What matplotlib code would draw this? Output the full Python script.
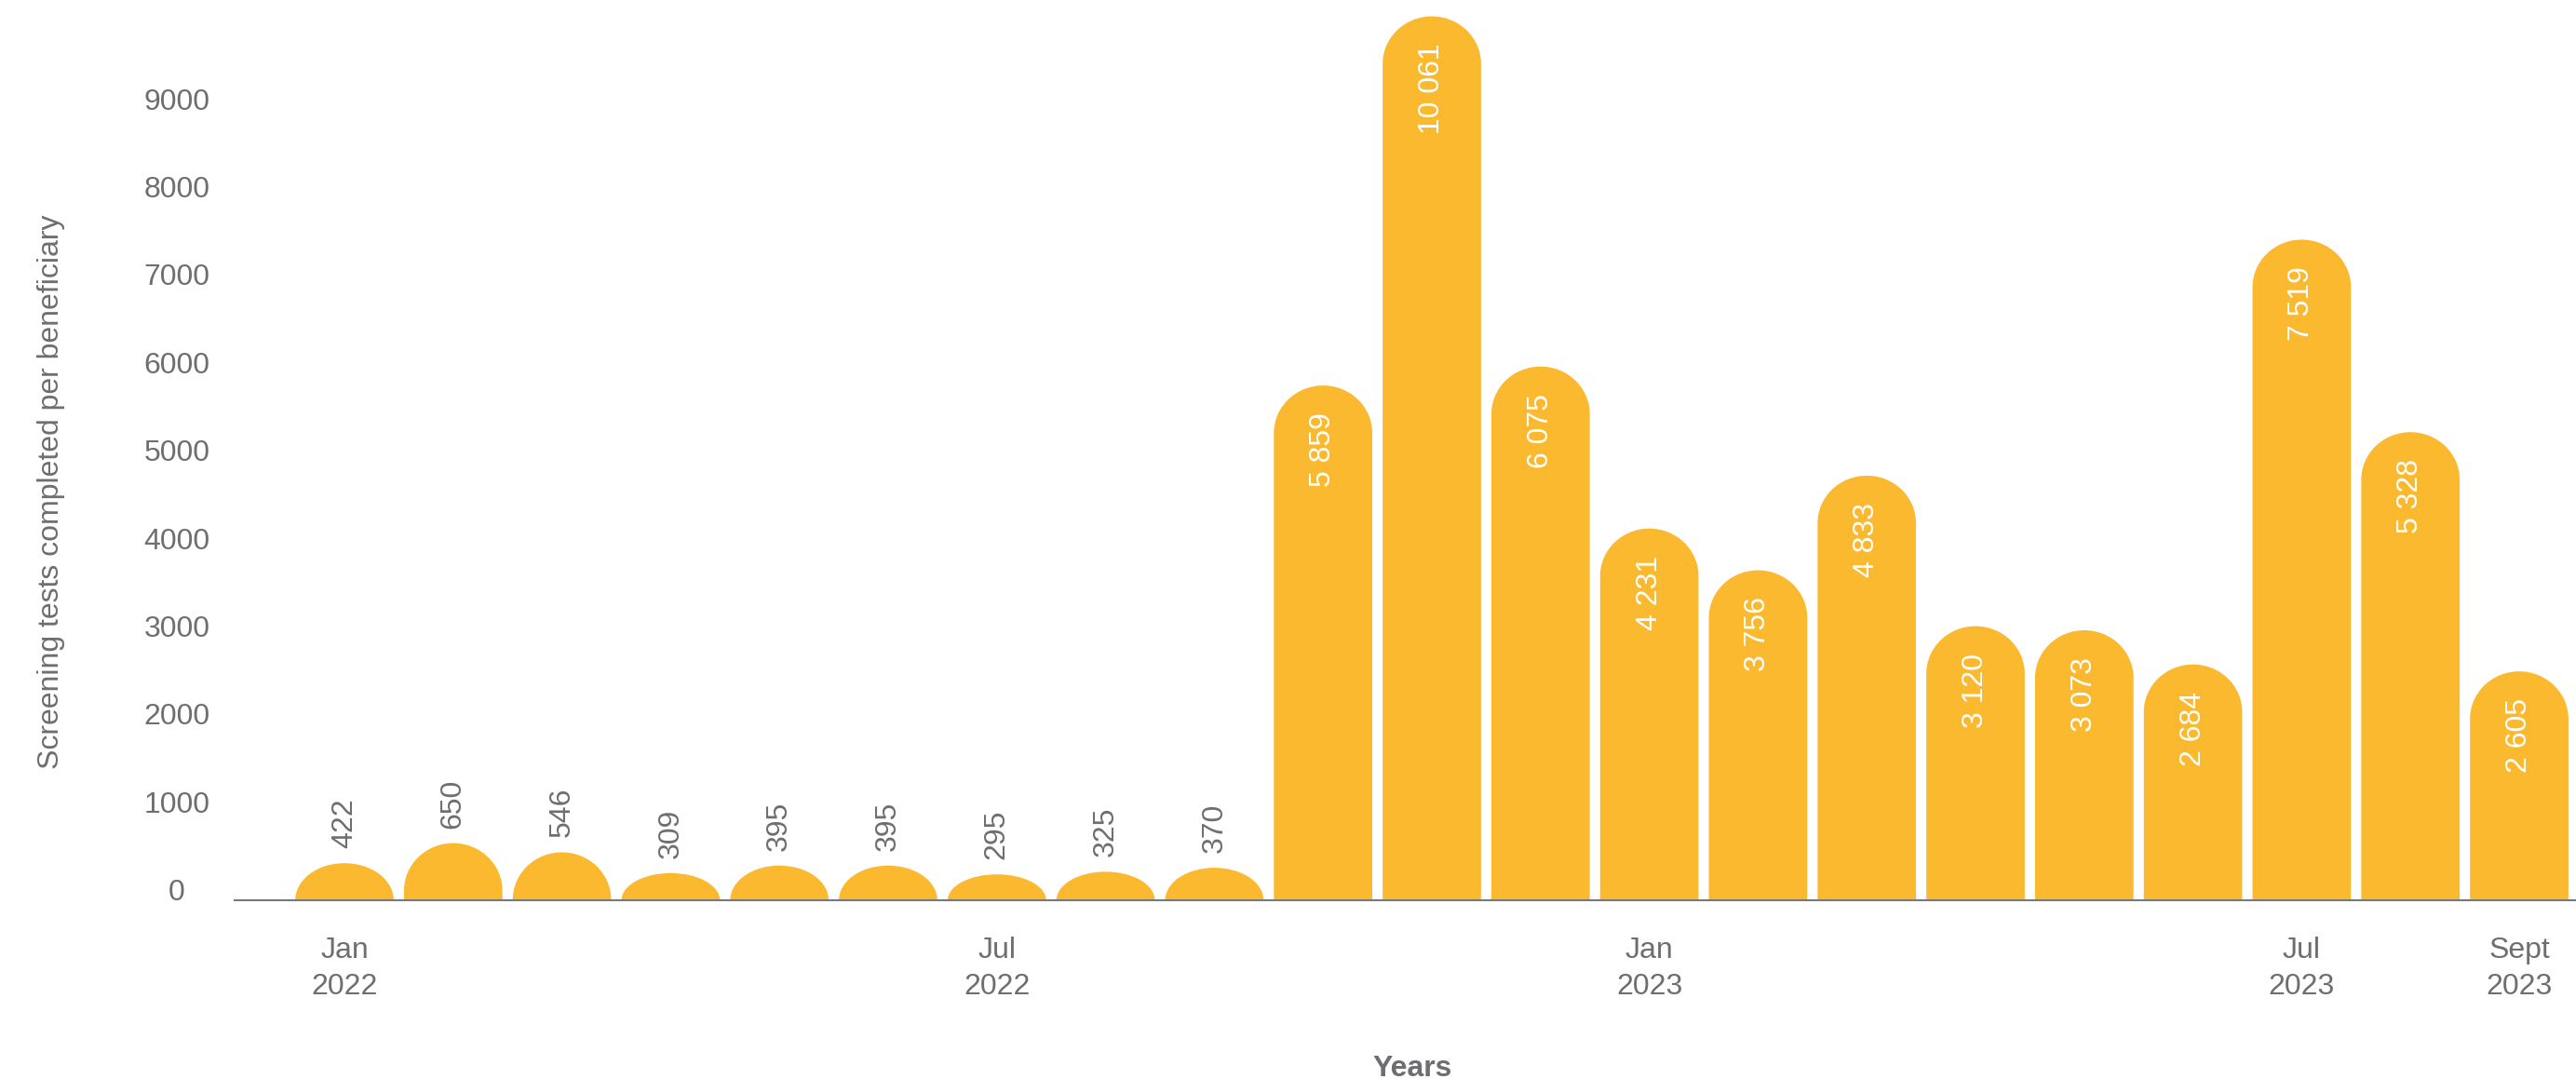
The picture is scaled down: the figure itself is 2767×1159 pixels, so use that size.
import matplotlib
matplotlib.use("Agg")
import matplotlib.pyplot as plt
from matplotlib.path import Path
from matplotlib.patches import PathPatch
import numpy as np

months = ["Jan 2022", "Feb 2022", "Mar 2022", "Apr 2022", "May 2022", "Jun 2022",
          "Jul 2022", "Aug 2022", "Sep 2022", "Oct 2022", "Nov 2022", "Dec 2022",
          "Jan 2023", "Feb 2023", "Mar 2023", "Apr 2023", "May 2023", "Jun 2023",
          "Jul 2023", "Aug 2023", "Sep 2023"]
values = [422, 650, 546, 309, 395, 395, 295, 325, 370, 5859, 10061, 6075,
          4231, 3756, 4833, 3120, 3073, 2684, 7519, 5328, 2605]
tick_idx = [0, 6, 12, 18, 20]
tick_labels = ["Jan\n2022", "Jul\n2022", "Jan\n2023", "Jul\n2023", "Sept\n2023"]
yticks = [0, 1000, 2000, 3000, 4000, 5000, 6000, 7000, 8000, 9000]

BAR = "#FBB92F"
GRAY = "#6d6e72"
FONT = "Liberation Sans"
plt.rcParams["font.family"] = [FONT, "DejaVu Sans"]

W, H = 2767, 1159
DPI = 100
fig = plt.figure(figsize=(W / DPI, H / DPI), dpi=DPI)
ax_left_px, ax_base_px = 252, 192
ax_h_px = H - ax_base_px
ax = fig.add_axes([ax_left_px / W, ax_base_px / H, 1 - ax_left_px / W, ax_h_px / H])

x0_px, step_px = 370, 116.8
xlim = (-(x0_px - ax_left_px) / step_px, (W - x0_px) / step_px)
ymax = 10247
ax.set_xlim(*xlim)
ax.set_ylim(0, ymax)

# pixel -> data conversion
px_per_y = ax_h_px / ymax
width = 0.905
rx = width / 2
ry_cap = 51 / px_per_y

arc = Path.arc(0, 180)
for i, v in enumerate(values):
    ry = min(ry_cap, v)
    base = v - ry
    av = arc.vertices.copy()
    av[:, 0] = i + rx * av[:, 0]
    av[:, 1] = base + ry * av[:, 1]
    verts = [(i - rx, 0), (i + rx, 0), (i + rx, base)]
    codes = [Path.MOVETO, Path.LINETO, Path.LINETO]
    verts += list(map(tuple, av[1:]))
    codes += list(arc.codes[1:])
    verts += [(i - rx, 0), (i - rx, 0)]
    codes += [Path.LINETO, Path.CLOSEPOLY]
    ax.add_patch(PathPatch(Path(verts, codes), facecolor=BAR, edgecolor="none", zorder=2))

    lab = f"{v:,}".replace(",", " ")
    if v < 1000:
        ax.annotate(lab, (i, v), xytext=(0, 16 * 72 / DPI), textcoords="offset points",
                    rotation=90, ha="center", va="bottom", color=GRAY, fontsize=23,
                    fontfamily=FONT)
    else:
        ax.annotate(lab, (i, v), xytext=(0, -29 * 72 / DPI), textcoords="offset points",
                    rotation=90, ha="center", va="top", color="white", fontsize=23,
                    fontfamily=FONT)

for s in ["top", "right", "left"]:
    ax.spines[s].set_visible(False)
ax.spines["bottom"].set_color("#77787b")
ax.spines["bottom"].set_linewidth(1.5)
ax.spines["bottom"].set_zorder(3)

ax.set_yticks(yticks)
ax.set_yticklabels([str(t) for t in yticks])
ax.tick_params(axis="y", length=0, pad=62 * 72 / DPI, labelsize=23, labelcolor=GRAY)
for t in ax.get_yticklabels():
    t.set_ha("center")
    t.set_va("baseline")

ax.set_xticks(tick_idx)
ax.set_xticklabels(tick_labels, linespacing=1.39)
ax.tick_params(axis="x", length=0, pad=39 * 72 / DPI, labelsize=23, labelcolor=GRAY)

ax.set_xlabel("Years", fontsize=23, fontweight="bold", color=GRAY)
ax.xaxis.label.set_va("baseline")
ax.xaxis.set_label_coords((1517 - ax_left_px) / (W - ax_left_px), (3 - ax_base_px) / ax_h_px)

ax.set_ylabel("Screening tests completed per beneficiary", fontsize=23, color=GRAY)
ax.yaxis.label.set_va("center")
ax.yaxis.set_label_coords((55 - ax_left_px) / (W - ax_left_px), (H - 528 - ax_base_px) / ax_h_px)

fig.savefig("out.png", dpi=DPI, facecolor="white")
